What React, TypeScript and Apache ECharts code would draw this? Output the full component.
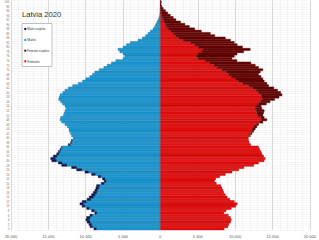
import { useEffect, useRef } from 'react';
import * as echarts from 'echarts';

const chartTitle = 'Latvia 2020';
const ages: string[] = Array.from({ length: 101 }, (_, i) => String(i));

// population by single year of age, 0..100
const males = [
  8930, 9450, 9600, 9850, 10000, 9900, 9460, 8800, 9240, 9900,
  10500, 10800, 10500, 9850, 9550, 9240, 9020, 8800, 8660, 8570,
  7950, 7550, 7780, 8350, 9240, 10130, 11240, 11910, 13240, 13690,
  14570, 14710, 14350, 13910, 13690, 13460, 13240, 12350, 12040, 11910,
  11690, 11910, 12040, 12220, 12260, 12490, 12800, 13240, 13460, 13380,
  13020, 12890, 12800, 12660, 12800, 13110, 13380, 13640, 13550, 13460,
  13110, 12800, 12350, 11770, 11020, 10440, 10000, 9470, 9110, 8800,
  8220, 7600, 7150, 6580, 5990, 5020, 4800, 5020, 5460, 5690,
  5020, 4580, 4040, 3020, 2440, 2000, 1690, 1380, 1020, 800,
  660, 490, 350, 220, 130, 90, 60, 40, 25, 15,
  20,
];
const females = [
  8550, 9050, 9200, 9400, 9500, 9380, 9100, 8500, 8800, 9500,
  10100, 10300, 9900, 9300, 8950, 8700, 8500, 8400, 8250, 8100,
  7500, 7250, 7400, 7950, 8700, 9600, 10500, 11200, 12500, 13150,
  13900, 14050, 13820, 13600, 13470, 13290, 13150, 12100, 11900, 11800,
  11750, 12040, 12270, 12490, 12710, 12930, 13150, 13730, 14270, 13910,
  13730, 13820, 13910, 13600, 13500, 14200, 14700, 15300, 15900, 16300,
  16100, 15700, 15200, 14490, 14270, 13910, 13730, 13470, 13150, 13380,
  13730, 13150, 12710, 12130, 10270, 9600, 9910, 10270, 11160, 12040,
  11000, 10300, 9900, 9400, 8700, 7300, 6700, 5500, 4600, 3900,
  3300, 2700, 2100, 1750, 1350, 1000, 700, 400, 200, 100,
  120,
];

const legendNames = ['Male surplus', 'Males', 'Female surplus', 'Females'];
const legendColors = ['#0c1a5c', '#1e9fdc', '#6a0000', '#f01010'];
const edgeColors = ['#06103a', '#0f6e9c', '#4a0000', '#a50000'];
const xTicks = [-20000, -15000, -10000, -5000, 0, 5000, 10000, 15000, 20000];

const fmt = (v: number) => String(Math.abs(v)).replace(/\B(?=(\d{3})+(?!\d))/g, ' ');

export default function App() {
  const ref = useRef<HTMLDivElement>(null);
  useEffect(() => {
    const chart = echarts.init(ref.current!, null, { renderer: 'svg' });
    const common = males.map((m, i) => Math.min(m, females[i]));
    const maleSurplus = males.map((m, i) => (m > females[i] ? -(m - females[i]) : null));
    const femaleSurplus = females.map((f, i) => (f > males[i] ? f - males[i] : null));
    const style = (i: number) => ({ color: legendColors[i], borderColor: edgeColors[i], borderWidth: 0.45 });
    const legendY = [29, 40, 50.7, 61.3];
    const bw = '112%';
    chart.setOption({
      animation: false,
      grid: { left: 11, right: 8, top: 0.5, bottom: 10, containLabel: false },
      xAxis: {
        type: 'value',
        min: xTicks[0],
        max: xTicks[xTicks.length - 1],
        interval: 5000,
        axisLine: { show: false },
        axisTick: { show: false },
        axisLabel: { fontSize: 4, color: '#555', margin: 4, formatter: (v: number) => fmt(v), fontFamily: 'Liberation Sans, Arial' },
        splitLine: { show: true, lineStyle: { color: '#cfcfcf', width: 0.8 } },
        minorTick: { show: false, splitNumber: 5 },
        minorSplitLine: { show: true, lineStyle: { color: '#ececec', width: 0.6 } },
      },
      yAxis: {
        type: 'category',
        data: ages,
        axisLine: { show: false, onZero: true },
        axisTick: { show: false },
        axisLabel: { interval: 1, fontSize: 3, color: '#777', margin: 1.5, fontFamily: 'Liberation Sans, Arial' },
        splitLine: { show: true, interval: 0, lineStyle: { color: '#eeeeee', width: 0.5 } },
      },
      series: [
        { name: 'Males', type: 'bar', stack: 'pop', barWidth: bw, data: common.map((v) => -v), itemStyle: style(1) },
        { name: 'Male surplus', type: 'bar', stack: 'pop', barWidth: bw, data: maleSurplus, itemStyle: style(0) },
        { name: 'Females', type: 'bar', stack: 'pop', barWidth: bw, data: common, itemStyle: style(3) },
        { name: 'Female surplus', type: 'bar', stack: 'pop', barWidth: bw, data: femaleSurplus, itemStyle: style(2) },
      ],
      graphic: [
        { type: 'text', x: 22, y: 10.8, z: 100, style: { text: chartTitle, fontSize: 7.6, fill: '#333', fontFamily: 'Liberation Sans, Arial', verticalAlign: 'top' } },
        { type: 'rect', z: 100, shape: { x: 22, y: 23.5, width: 30, height: 43 }, style: { fill: '#fff', stroke: '#999', lineWidth: 0.6 } },
        ...legendNames.flatMap((name, i) => [
          { type: 'rect', z: 101, shape: { x: 24.3, y: legendY[i] - 1, width: 2, height: 2 }, style: { fill: legendColors[i] } },
          { type: 'text', z: 101, x: 27.3, y: legendY[i], style: { text: name, fontSize: 3.2, fill: '#333', fontFamily: 'Liberation Sans, Arial', verticalAlign: 'middle' } },
        ]),
      ],
    });
    return () => chart.dispose();
  }, []);
  return <div ref={ref} style={{ position: 'absolute', left: 0, top: 0, width: 319, height: 240 }} />;
}
